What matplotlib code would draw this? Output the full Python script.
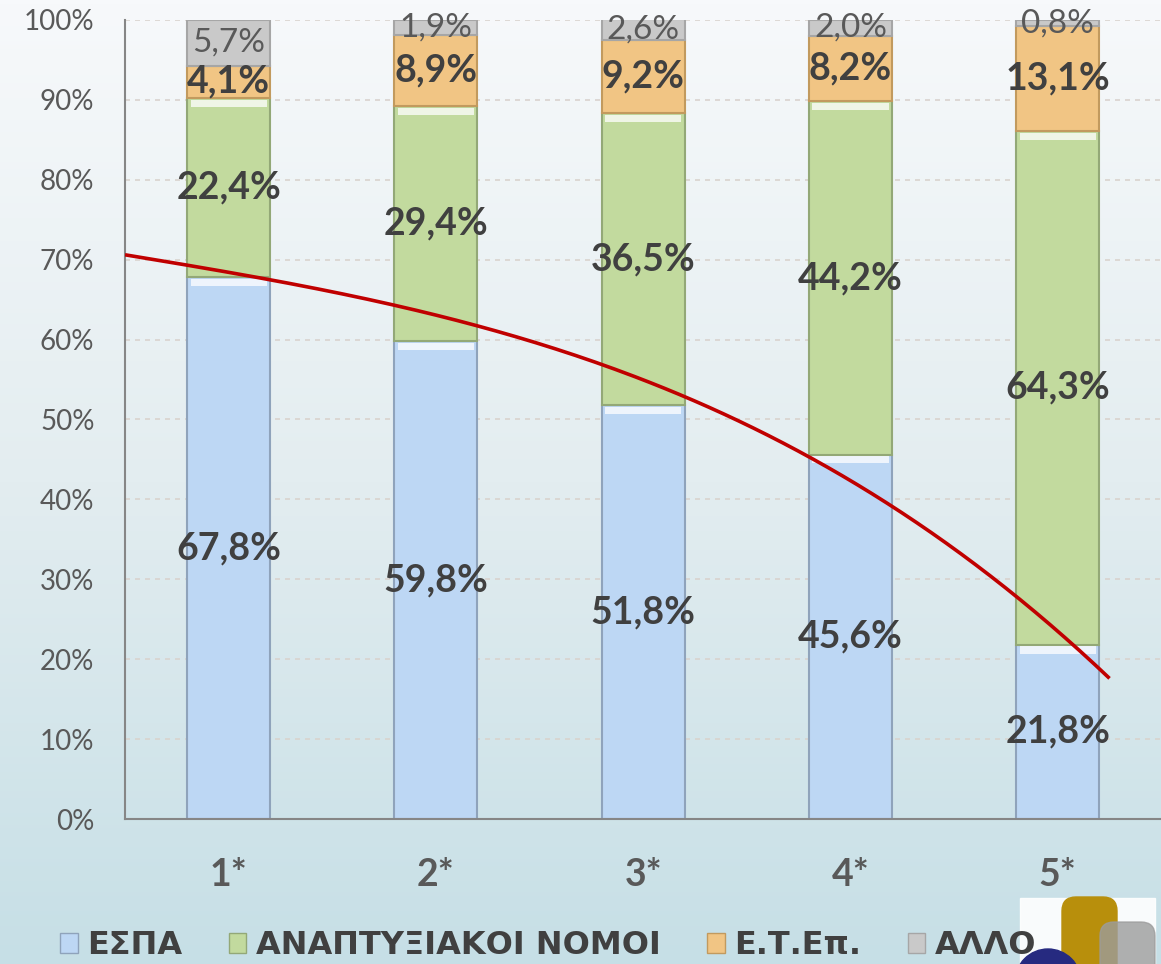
import numpy as np
import matplotlib
matplotlib.use('Agg')
import matplotlib.pyplot as plt
from matplotlib.colors import LinearSegmentedColormap
from matplotlib.patches import Patch, FancyBboxPatch, Circle, Rectangle
from matplotlib.font_manager import FontProperties

plt.rcParams['font.family'] = ['Lato', 'Noto Sans', 'DejaVu Sans']

# data (percent of each bar)
categories = ['1*', '2*', '3*', '4*', '5*']
espa = [67.8, 59.8, 51.8, 45.6, 21.8]
anapt = [22.4, 29.4, 36.5, 44.2, 64.3]
etep = [4.1, 8.9, 9.2, 8.2, 13.1]
allo = [5.7, 1.9, 2.6, 2.0, 0.8]
series_names = ['ΕΣΠΑ', 'ΑΝΑΠΤΥΞΙΑΚΟΙ ΝΟΜΟΙ', 'Ε.Τ.Επ.', 'ΑΛΛΟ']
y_ticks = [0, 10, 20, 30, 40, 50, 60, 70, 80, 90, 100]

# red trend curve, read at a few spots along the category axis
curve_x = [-0.5, 0, 1, 2, 3, 4, 4.25]
curve_y = [70.5, 68.5, 63.4, 54.4, 42.5, 24.1, 17.1]

colors = ['#bdd7f4', '#c2da9e', '#f1c584', '#c9c9c9']
edges = ['#8fa3bb', '#93a877', '#c29a5e', '#a6a6a6']
label_colors = ['#404040', '#404040', '#404040', '#595959']
label_weights = ['bold', 'bold', 'bold', 'normal']
label_sizes = [27, 27, 27, 24]

fig = plt.figure(figsize=(11.61, 9.64), dpi=100)

# background gradient
bg = fig.add_axes([0, 0, 1, 1], zorder=-5)
grad = np.linspace(0, 1, 256).reshape(-1, 1)
bg_cmap = LinearSegmentedColormap.from_list('bg', ['#f7f9fb', '#e3edf0', '#c6dfe6'])
bg.imshow(grad, aspect='auto', cmap=bg_cmap, extent=[0, 1, 0, 1], origin='upper')
bg.axis('off')

ax = fig.add_axes([0.1077, 0.1504, 0.8926, 0.8289])
ax.patch.set_alpha(0)

x = np.arange(len(categories))
width = 0.4
bottom = np.zeros(len(categories))
handles = []
for i, vals in enumerate([espa, anapt, etep, allo]):
    vals = np.array(vals)
    ax.bar(x, vals, width, bottom=bottom, color=colors[i], edgecolor=edges[i],
           linewidth=1.5, zorder=2)
    if i < 2:
        # white bevel at the top of the segment
        ax.bar(x, 0.9, width * 0.92, bottom=bottom + vals - 1.1, color='white',
               alpha=0.75, linewidth=0, zorder=3)
    for xi, b, v in zip(x, bottom, vals):
        ax.text(xi, b + v / 2, f'{v:.1f}'.replace('.', ',') + '%', ha='center',
                va='center', fontsize=label_sizes[i], fontweight=label_weights[i],
                color=label_colors[i], zorder=6)
    bottom = bottom + vals
    handles.append(Patch(facecolor=colors[i], edgecolor=edges[i], linewidth=1))

# trend curve
coef = np.polyfit(curve_x, curve_y, 3)
xs = np.linspace(curve_x[0], curve_x[-1], 200)
ax.plot(xs, np.polyval(coef, xs), color='#c00000', linewidth=2.6, zorder=5,
        solid_capstyle='butt')

ax.set_xlim(-0.5, 4.5)
ax.set_ylim(0, 100)
ax.set_yticks(y_ticks)
ax.set_yticklabels([f'{t}%' for t in y_ticks])
ax.set_xticks(x)
ax.set_xticklabels(categories, fontweight='bold')
ax.tick_params(axis='y', length=0, pad=22, labelsize=20, labelcolor='#595959')
ax.tick_params(axis='x', length=0, pad=28, labelsize=27, labelcolor='#595959')
ax.yaxis.grid(True, linestyle=(0, (3, 3)), color='#d9d3ce', linewidth=1.2)
ax.set_axisbelow(True)
for s in ['top', 'right']:
    ax.spines[s].set_visible(False)
for s in ['left', 'bottom']:
    ax.spines[s].set_color('#868686')
    ax.spines[s].set_linewidth(1.5)
ax.spines['left'].set_zorder(4)

# logo in the lower right corner
logo = fig.add_axes([0, 0, 1, 1], zorder=1)
logo.set_xlim(0, 1161)
logo.set_ylim(964, 0)
logo.axis('off')
logo.add_patch(Rectangle((1020, 898), 135, 70, color='white', alpha=0.9))
logo.add_patch(FancyBboxPatch((1062, 897), 55, 90, boxstyle='round,pad=0,rounding_size=14',
                              color='#b88f0c'))
logo.add_patch(FancyBboxPatch((1100, 922), 55, 70, boxstyle='round,pad=0,rounding_size=14',
                              color='#9c9c9c', alpha=0.8))
logo.add_patch(Circle((1048, 982), 33, color='#262a80'))

leg_font = FontProperties(family='DejaVu Sans', weight='bold', size=23)
fig.legend(handles, series_names, loc='lower left', bbox_to_anchor=(0.027, -0.027),
           ncol=4, frameon=False, prop=leg_font,
           labelcolor='#404040', handlelength=0.55, handleheight=0.55,
           handletextpad=0.3, columnspacing=1.45)

fig.savefig('out.png', dpi=100)
